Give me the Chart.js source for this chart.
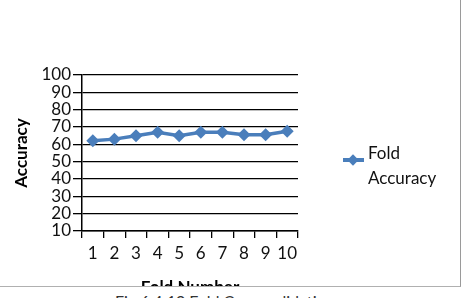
<!DOCTYPE html>
<html>
<head>
<meta charset="utf-8">
<script src="https://cdn.jsdelivr.net/npm/chart.js@4/dist/chart.umd.min.js"></script>
<style>
  html, body { margin: 0; padding: 0; background: #fff; }
  #wrap { position: relative; width: 472px; height: 298px; overflow: hidden; background: #fff; font-family: Lato, sans-serif; }
  #frame { position: absolute; left: 0; top: 0; width: 460px; height: 286px; overflow: hidden;
           border-right: 1.5px solid #9a9a9a; border-bottom: 1.5px solid #b0b0b0; }
  #c { position: absolute; left: 0; top: 0; }
  #legend { position: absolute; left: 343px; top: 140px; color: #111; font-size: 17px; line-height: 25px; }
  #legend .mk { position: absolute; left: 0; top: 18px; width: 21px; height: 4px; background: #4A7EBB; }
  #legend .dm { position: absolute; left: 6px; top: 15.5px; width: 8px; height: 8px; background: #4A7EBB; transform: rotate(45deg); }
  #legend .tx { position: absolute; left: 25px; top: 0; white-space: nowrap; }
  #caption { position: absolute; left: 115px; top: 291px; font-size: 16px; color: #333; white-space: nowrap; font-family: Lato, sans-serif; }
</style>
</head>
<body>
<div id="wrap">
  <div id="frame">
    <canvas id="c" width="461" height="298"></canvas>
    <div id="legend"><div class="mk"></div><div class="dm"></div><div class="tx">Fold<br>Accuracy</div></div>
  </div>
  <div id="caption">Fig 6.4 10 Fold Cross validation</div>
</div>
<script>
const categories = ['1','2','3','4','5','6','7','8','9','10'];
const foldAccuracy = [62, 63, 65, 67, 65, 67, 67, 65.5, 65.5, 67.5];
const seriesName = 'Fold Accuracy';
const yTicks = [10, 20, 30, 40, 50, 60, 70, 80, 90, 100];
const xTitle = 'Fold Number';
const yTitle = 'Accuracy';

const blue = '#4A7EBB';
new Chart(document.getElementById('c'), {
  type: 'line',
  data: {
    labels: categories,
    datasets: [{
      label: seriesName,
      data: foldAccuracy,
      borderColor: blue,
      backgroundColor: blue,
      borderWidth: 3.5,
      pointStyle: 'rectRot',
      pointRadius: 6.5,
      pointHoverRadius: 6.5,
      pointBackgroundColor: blue,
      pointBorderColor: blue,
      pointBorderWidth: 0,
      tension: 0
    }]
  },
  options: {
    responsive: false,
    animation: false,
    devicePixelRatio: 1,
    layout: { padding: { left: 0, right: 163, top: 75, bottom: 0 } },
    plugins: { legend: { display: false }, tooltip: { enabled: false } },
    scales: {
      x: {
        type: 'category',
        offset: true,
        afterFit: (s) => { s.height = 67; },
        grid: { offset: true, drawOnChartArea: false, drawTicks: true, tickLength: 7, color: '#000', lineWidth: 1.3 },
        border: { display: true, color: '#000', width: 1.5 },
        ticks: { color: '#111', font: { family: 'Lato', size: 17 }, padding: 5, maxRotation: 0, autoSkip: false },
        title: { display: true, text: xTitle, color: '#000', font: { family: 'Lato', size: 17, weight: 'bold' }, padding: 0 }
      },
      y: {
        min: 10, max: 100,
        afterFit: (s) => { s.width = 82; },
        afterBuildTicks: (s) => { s.ticks = yTicks.map(v => ({ value: v })); },
        grid: { color: '#000', lineWidth: 1.3, drawTicks: true, tickLength: 9 },
        border: { display: true, color: '#000', width: 1.5 },
        ticks: { color: '#111', font: { family: 'Lato', size: 17 }, padding: 2, autoSkip: false },
        title: { display: true, text: yTitle, color: '#000', font: { family: 'Lato', size: 17, weight: 'bold' }, padding: { top: 11, bottom: 0 } }
      }
    }
  }
});
</script>
</body>
</html>
